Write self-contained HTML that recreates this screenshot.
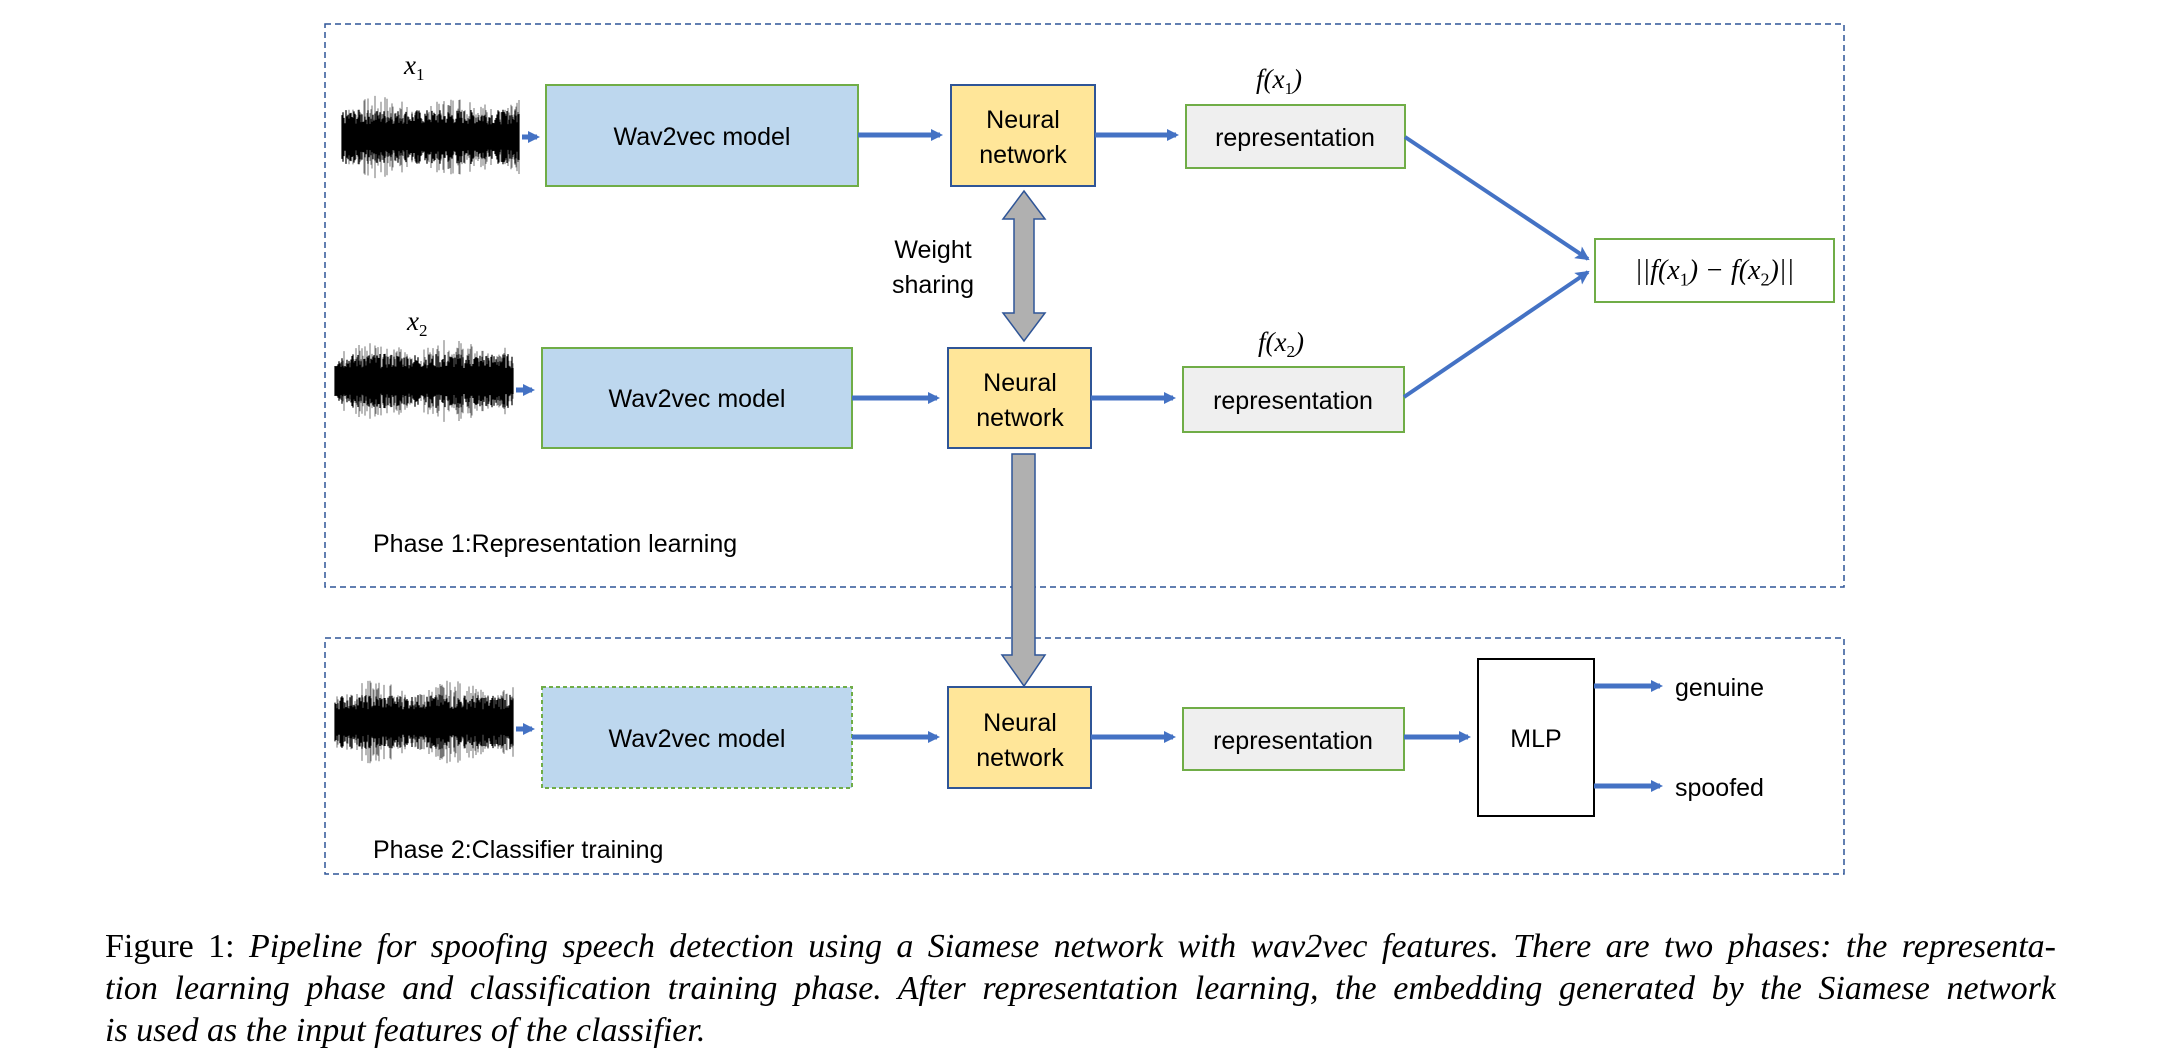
<!DOCTYPE html>
<html><head><meta charset="utf-8"><style>
html,body{margin:0;padding:0;background:#fff;}
body{width:2162px;height:1054px;position:relative;overflow:hidden;}
svg{position:absolute;left:0;top:0;}
.cap{position:absolute;left:105px;width:1951px;font-family:"Liberation Serif",serif;font-size:34px;line-height:42px;color:#000;white-space:nowrap;}
.j{text-align:justify;text-align-last:justify;white-space:normal;}
.res{position:absolute;left:1595px;top:239px;width:239px;height:63px;line-height:63px;text-align:center;font-family:"Liberation Serif",serif;font-style:italic;font-size:28px;}
.res sub{font-style:normal;font-size:18px;}
</style></head><body>
<svg id="s" width="2162" height="1054" viewBox="0 0 2162 1054" font-family="Liberation Sans, sans-serif">
<defs>
<marker id="ah" markerWidth="12" markerHeight="12" refX="9" refY="6" orient="auto" markerUnits="userSpaceOnUse"><path d="M0,0 L12,6 L0,12 Z" fill="#4472c4"/></marker>
<marker id="ab" markerWidth="14" markerHeight="14" refX="12" refY="7" orient="auto" markerUnits="userSpaceOnUse"><path d="M0,0 L14,7 L0,14 L3,7 Z" fill="#4472c4"/></marker>
</defs>
<rect x="325" y="24" width="1519" height="563" fill="none" stroke="#2f5597" stroke-width="1.5" stroke-dasharray="6,4"/>
<rect x="325" y="638" width="1519" height="236" fill="none" stroke="#2f5597" stroke-width="1.5" stroke-dasharray="6,4"/>
<g id="waves"></g>
<g font-family="Liberation Serif, serif" font-style="italic" font-size="27">
<text x="404" y="74">x<tspan font-size="17" dy="6" font-style="normal">1</tspan></text>
<text x="407" y="330">x<tspan font-size="17" dy="6" font-style="normal">2</tspan></text>
<text x="1256" y="88">f(x<tspan font-size="17" dy="6" font-style="normal">1</tspan><tspan dy="-6">)</tspan></text>
<text x="1258" y="351">f(x<tspan font-size="17" dy="6" font-style="normal">2</tspan><tspan dy="-6">)</tspan></text>
</g>
<rect x="546" y="85" width="312" height="101" fill="#bdd7ee" stroke="#70ad47" stroke-width="2"/>
<rect x="542" y="348" width="310" height="100" fill="#bdd7ee" stroke="#70ad47" stroke-width="2"/>
<rect x="542" y="687" width="310" height="101" fill="#bdd7ee" stroke="#70ad47" stroke-width="2" stroke-dasharray="4,3"/>
<rect x="951" y="85" width="144" height="101" fill="#ffe699" stroke="#2f5597" stroke-width="2"/>
<rect x="948" y="348" width="143" height="100" fill="#ffe699" stroke="#2f5597" stroke-width="2"/>
<rect x="948" y="687" width="143" height="101" fill="#ffe699" stroke="#2f5597" stroke-width="2"/>
<rect x="1186" y="105" width="219" height="63" fill="#efefef" stroke="#70ad47" stroke-width="2"/>
<rect x="1183" y="367" width="221" height="65" fill="#efefef" stroke="#70ad47" stroke-width="2"/>
<rect x="1183" y="708" width="221" height="62" fill="#efefef" stroke="#70ad47" stroke-width="2"/>
<rect x="1595" y="239" width="239" height="63" fill="#fff" stroke="#70ad47" stroke-width="2"/>
<rect x="1478" y="659" width="116" height="157" fill="#fff" stroke="#000" stroke-width="2"/>
<g font-size="25" text-anchor="middle" fill="#000">
<text x="702" y="145">Wav2vec model</text>
<text x="697" y="407">Wav2vec model</text>
<text x="697" y="747">Wav2vec model</text>
<text x="1023" y="128">Neural</text><text x="1023" y="163">network</text>
<text x="1020" y="391">Neural</text><text x="1020" y="426">network</text>
<text x="1020" y="731">Neural</text><text x="1020" y="766">network</text>
<text x="1295" y="146">representation</text>
<text x="1293" y="409">representation</text>
<text x="1293" y="749">representation</text>
<text x="1536" y="747">MLP</text>
<text x="933" y="258">Weight</text><text x="933" y="293">sharing</text>
</g>
<g font-size="25" fill="#000">
<text x="1675" y="696">genuine</text>
<text x="1675" y="796">spoofed</text>
<text x="373" y="552">Phase 1:Representation learning</text>
<text x="373" y="858">Phase 2:Classifier training</text>
</g>
<g stroke="#4472c4" stroke-width="5" fill="none">
<line x1="522" y1="137" x2="537" y2="137" marker-end="url(#ah)"/>
<line x1="516" y1="390" x2="532" y2="390" marker-end="url(#ah)"/>
<line x1="516" y1="729" x2="532" y2="729" marker-end="url(#ah)"/>
<line x1="858" y1="135" x2="940" y2="135" marker-end="url(#ah)"/>
<line x1="852" y1="398" x2="937" y2="398" marker-end="url(#ah)"/>
<line x1="852" y1="737" x2="937" y2="737" marker-end="url(#ah)"/>
<line x1="1095" y1="135" x2="1176" y2="135" marker-end="url(#ah)"/>
<line x1="1091" y1="398" x2="1173" y2="398" marker-end="url(#ah)"/>
<line x1="1091" y1="737" x2="1173" y2="737" marker-end="url(#ah)"/>
<line x1="1404" y1="737" x2="1468" y2="737" marker-end="url(#ah)"/>
<line x1="1594" y1="686" x2="1660" y2="686" marker-end="url(#ah)"/>
<line x1="1594" y1="786" x2="1660" y2="786" marker-end="url(#ah)"/>
</g>
<g stroke="#4472c4" stroke-width="4" fill="none">
<line x1="1405" y1="137" x2="1588" y2="259" marker-end="url(#ab)"/>
<line x1="1404" y1="397" x2="1588" y2="272" marker-end="url(#ab)"/>
</g>
<path d="M1024,191 L1045,219 L1034,219 L1034,313 L1045,313 L1024,341 L1003,313 L1014,313 L1014,219 L1003,219 Z" fill="#b0b0b0" stroke="#2f5597" stroke-width="1.5"/>
<path d="M1012,454 L1035,454 L1035,655 L1045,655 L1024,686 L1002,655 L1012,655 Z" fill="#b0b0b0" stroke="#2f5597" stroke-width="1.5"/>
</svg>
<div class="res">||f(x<sub>1</sub>) − f(x<sub>2</sub>)||</div>
<div class="cap j" style="top:926px;height:42px;overflow:hidden">Figure 1: <i>Pipeline for spoofing speech detection using a Siamese network with wav2vec features. There are two phases: the representa-</i></div>
<div class="cap j" style="top:968px;height:42px;overflow:hidden"><i>tion learning phase and classification training phase. After representation learning, the embedding generated by the Siamese network</i></div>
<div class="cap" style="top:1010px"><i>is used as the input features of the classifier.</i></div>
<script>
(function(){
var g=document.getElementById('waves');var ns='http://www.w3.org/2000/svg';
var seed=7;function r(){seed=(seed*9301+49297)%233280;return seed/233280;}
function wave(x0,x1,cy,h){
 var d='';
 for(var x=x0;x<x1;x+=1){
  var env=0.6+0.4*Math.abs(Math.sin((x-x0)/25));
  var a=h*(0.3+0.7*r())*env;
  d+='M'+x+','+(cy-a).toFixed(1)+'L'+x+','+(cy+a).toFixed(1);
 }
 var p=document.createElementNS(ns,'path');p.setAttribute('d',d);
 p.setAttribute('stroke','#000');p.setAttribute('stroke-width','1');p.setAttribute('stroke-opacity','0.55');
 g.appendChild(p);
 var d2='';
 for(var x=x0;x<x1;x+=1){
  var a=h*(0.3+0.35*r());
  d2+='M'+x+','+(cy-a).toFixed(1)+'L'+x+','+(cy+a).toFixed(1);
 }
 var q=document.createElementNS(ns,'path');q.setAttribute('d',d2);
 q.setAttribute('stroke','#000');q.setAttribute('stroke-width','1.2');
 g.appendChild(q);
}
wave(342,520,137,42);wave(335,514,381,42);wave(335,514,722,42);
})();
</script>
</body></html>
